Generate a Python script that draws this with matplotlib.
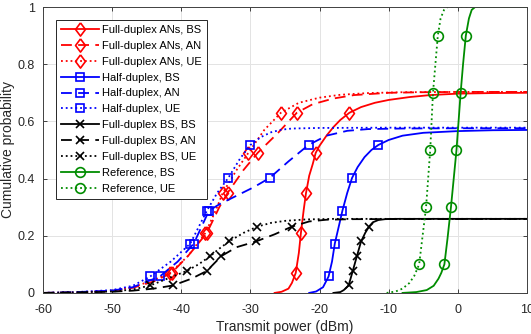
import numpy as np
import matplotlib
matplotlib.use("Agg")
import matplotlib.pyplot as plt
from matplotlib.lines import Line2D

plt.rcParams['font.family'] = ['Liberation Sans', 'DejaVu Sans']
plt.rcParams['axes.unicode_minus'] = False

# Full-duplex ANs (red)
fdan_bs_x = [-26.5, -25.5, -24.5, -24, -23.45, -23, -22.7, -22.3, -21.96, -21.5, -21, -20.56, -20, -19, -18, -17,
             -15.7, -14, -12, -10, -7, -4, 0, 5, 10]
fdan_bs_y = [0, 0.004, 0.015, 0.035, 0.07, 0.14, 0.21, 0.29, 0.35, 0.41, 0.45, 0.49, 0.515, 0.55, 0.58, 0.605,
             0.63, 0.65, 0.665, 0.675, 0.685, 0.692, 0.697, 0.699, 0.70]
fdan_bs_mx = [-23.45, -22.7, -21.96, -20.56, -15.7]

fdan_an_x = [-60, -55, -50, -47, -44, -41.4, -39, -36.3, -34.5, -33.3, -31, -28.95, -26, -23.3, -21, -18, -15,
             -10, -5, 0, 10]
fdan_an_y = [0, 0.002, 0.007, 0.018, 0.04, 0.07, 0.13, 0.21, 0.3, 0.35, 0.43, 0.49, 0.56, 0.63, 0.66, 0.68,
             0.692, 0.70, 0.702, 0.703, 0.703]
fdan_an_mx = [-41.4, -36.3, -33.3, -28.95, -23.3]

fdan_ue_x = [-60, -55, -50, -47, -44, -41.6, -39, -36.5, -35, -34, -32, -30.3, -28, -25.6, -23, -20, -17, -13,
             -8, 0, 10]
fdan_ue_y = [0, 0.002, 0.008, 0.02, 0.045, 0.07, 0.13, 0.21, 0.29, 0.35, 0.43, 0.49, 0.57, 0.63, 0.665, 0.683,
             0.693, 0.699, 0.702, 0.703, 0.703]
fdan_ue_mx = [-41.6, -36.5, -34.0, -30.3, -25.6]
fdan_levels = [0.07, 0.21, 0.35, 0.49, 0.63]

# Half-duplex (blue)
hd_bs_x = [-21.5, -20.5, -19.5, -18.7, -18.2, -17.8, -17.2, -16.7, -16, -15.3, -14.5, -13.5, -12.5, -11.5, -10,
           -8, -5, 0, 5, 10]
hd_bs_y = [0, 0.005, 0.02, 0.0575, 0.11, 0.1725, 0.235, 0.2875, 0.35, 0.4025, 0.44, 0.475, 0.5, 0.5175, 0.535,
           0.55, 0.56, 0.566, 0.569, 0.57]
hd_bs_mx = [-18.7, -17.8, -16.7, -15.3, -11.5]

hd_an_x = [-60, -55, -50, -47, -43.1, -40.5, -38.2, -36.0, -34.5, -32, -29.5, -27.2, -24.5, -21.6, -19, -16, -13,
           -8, 0, 10]
hd_an_y = [0, 0.003, 0.008, 0.02, 0.0575, 0.11, 0.1725, 0.2875, 0.31, 0.34, 0.37, 0.4025, 0.46, 0.5175, 0.55,
           0.567, 0.573, 0.575, 0.576, 0.576]
hd_an_mx = [-43.1, -38.2, -36.0, -27.2, -21.6]

hd_ue_x = [-60, -55, -50, -47, -44.5, -41.5, -38.7, -37.5, -36.3, -34.8, -33.2, -31.5, -30, -28.5, -27, -25.5,
           -24, -20, -10, 0, 10]
hd_ue_y = [0, 0.003, 0.01, 0.025, 0.0575, 0.11, 0.1725, 0.23, 0.2875, 0.35, 0.4025, 0.47, 0.5175, 0.545, 0.562,
           0.571, 0.575, 0.577, 0.578, 0.578, 0.578]
hd_ue_mx = [-44.5, -38.7, -36.3, -33.2, -30.0]
hd_levels = [0.0575, 0.1725, 0.2875, 0.4025, 0.5175]

# Full-duplex BS (black)
fdbs_bs_x = [-18, -17, -16.5, -15.8, -15.2, -14.6, -14.0, -13.4, -12.85, -12.3, -11.5, -10.5, -9, 0, 10]
fdbs_bs_y = [0, 0.003, 0.01, 0.026, 0.077, 0.129, 0.18, 0.21, 0.232, 0.247, 0.255, 0.258, 0.259, 0.259, 0.259]
fdbs_bs_mx = [-15.8, -15.2, -14.6, -14.0, -12.85]

fdbs_an_x = [-60, -55, -50, -47, -44, -41.2, -38.5, -36.3, -34.2, -32, -29.2, -26.5, -24, -21.5, -19, -15, 10]
fdbs_an_y = [0, 0.002, 0.004, 0.008, 0.015, 0.026, 0.05, 0.077, 0.129, 0.16, 0.18, 0.205, 0.232, 0.25, 0.256,
             0.258, 0.259]
fdbs_an_mx = [-41.2, -36.3, -34.2, -29.2, -24.0]

fdbs_ue_x = [-60, -55, -50, -47, -44.5, -42, -39.2, -37.5, -35.8, -34.5, -33.1, -31, -29.0, -27, -25, -22, -18, 10]
fdbs_ue_y = [0, 0.002, 0.005, 0.012, 0.026, 0.05, 0.077, 0.1, 0.129, 0.155, 0.18, 0.21, 0.232, 0.245, 0.252,
             0.257, 0.259, 0.259]
fdbs_ue_mx = [-44.5, -39.2, -35.8, -33.1, -29.0]
fdbs_levels = [0.026, 0.077, 0.129, 0.18, 0.232]

# Reference (green)
ref_bs_x = [-8, -6, -4.5, -3.5, -2.8, -2.4, -1.95, -1.5, -1.0, -0.6, -0.2, 0.4, 0.75, 1.15, 1.6, 2.0, 2.5, 10]
ref_bs_y = [0, 0.003, 0.01, 0.025, 0.05, 0.07, 0.1, 0.19, 0.3, 0.4, 0.5, 0.7, 0.8, 0.9, 0.96, 0.99, 1.0, 1.0]
ref_bs_mx = [-1.95, -1.0, -0.2, 0.4, 1.15]

ref_ue_x = [-10.3, -9, -8, -7, -6.3, -5.6, -5.1, -4.6, -4.3, -4.0, -3.6, -3.25, -2.9, -2.5, -2, -1.5, 10]
ref_ue_y = [0, 0.005, 0.015, 0.035, 0.06, 0.1, 0.2, 0.3, 0.4, 0.5, 0.7, 0.8, 0.9, 0.96, 0.99, 1.0, 1.0]
ref_ue_mx = [-5.6, -4.6, -4.0, -3.6, -2.9]
ref_levels = [0.1, 0.3, 0.5, 0.7, 0.9]

labels = ['Full-duplex ANs, BS', 'Full-duplex ANs, AN', 'Full-duplex ANs, UE',
          'Half-duplex, BS', 'Half-duplex, AN', 'Half-duplex, UE',
          'Full-duplex BS, BS', 'Full-duplex BS, AN', 'Full-duplex BS, UE',
          'Reference, BS', 'Reference, UE']

green = (0.0, 0.55, 0.0)
dash = (0, (6, 3.5))
diamond = [(0, 1), (0.75, 0), (0, -1), (-0.75, 0), (0, 1)]  # MATLAB-like diamond
series = [
    (fdan_bs_x, fdan_bs_y, fdan_bs_mx, fdan_levels, 'red', '-', diamond, 9.5),
    (fdan_an_x, fdan_an_y, fdan_an_mx, fdan_levels, 'red', dash, diamond, 9.5),
    (fdan_ue_x, fdan_ue_y, fdan_ue_mx, fdan_levels, 'red', ':', diamond, 9.5),
    (hd_bs_x, hd_bs_y, hd_bs_mx, hd_levels, 'blue', '-', 's', 5.5),
    (hd_an_x, hd_an_y, hd_an_mx, hd_levels, 'blue', dash, 's', 5.5),
    (hd_ue_x, hd_ue_y, hd_ue_mx, hd_levels, 'blue', ':', 's', 5.5),
    (fdbs_bs_x, fdbs_bs_y, fdbs_bs_mx, fdbs_levels, 'black', '-', 'x', 6),
    (fdbs_an_x, fdbs_an_y, fdbs_an_mx, fdbs_levels, 'black', dash, 'x', 6),
    (fdbs_ue_x, fdbs_ue_y, fdbs_ue_mx, fdbs_levels, 'black', ':', 'x', 6),
    (ref_bs_x, ref_bs_y, ref_bs_mx, ref_levels, green, '-', 'o', 7),
    (ref_ue_x, ref_ue_y, ref_ue_mx, ref_levels, green, ':', 'o', 7),
]

fig = plt.figure(figsize=(5.31, 3.34), dpi=100)
ax = fig.add_axes([0.081, 0.123, 0.9115, 0.856])

handles = []
for (x, y, mx, my, c, ls, m, ms), lab in zip(series, labels):
    ax.plot(x, y, color=c, linestyle=ls, linewidth=1.3)
    ax.plot(mx, my, color=c, linestyle='none', marker=m, markersize=ms,
            markerfacecolor='none', markeredgewidth=1.2)
    handles.append(Line2D([], [], color=c, linestyle=ls, linewidth=1.3, marker=m, markersize=ms,
                          markerfacecolor='none', markeredgewidth=1.2, label=lab))

ax.set_xlim(-60, 10)
ax.set_ylim(0, 1)
ax.set_xticks(np.arange(-60, 11, 10))
ax.set_yticks([0, 0.2, 0.4, 0.6, 0.8, 1])
ax.set_yticklabels(['0', '0.2', '0.4', '0.6', '0.8', '1'])
ax.grid(True, color='#e3e3e3', linewidth=0.7)
ax.set_axisbelow(True)
ax.tick_params(direction='in', top=True, right=True, labelsize=9, colors='#262626',
               length=3, width=0.6)
ax.tick_params(axis='x', pad=8)
ax.tick_params(axis='y', pad=6)
for s in ax.spines.values():
    s.set_color('#404040')
    s.set_linewidth(0.7)
ax.set_xlabel('Transmit power (dBm)', fontsize=10, color='#262626', labelpad=2.5)
ax.set_ylabel('Cumulative probability', fontsize=10, color='#262626', labelpad=1.5)

leg = ax.legend(handles=handles, loc='upper left', bbox_to_anchor=(0.027, 0.955),
                borderaxespad=0, fontsize=8, handlelength=3.4, handletextpad=0.3,
                labelspacing=0.53, borderpad=0.45, fancybox=False, framealpha=1,
                edgecolor='#262626')
leg.get_frame().set_linewidth(0.7)

fig.savefig('out.png', dpi=100)
